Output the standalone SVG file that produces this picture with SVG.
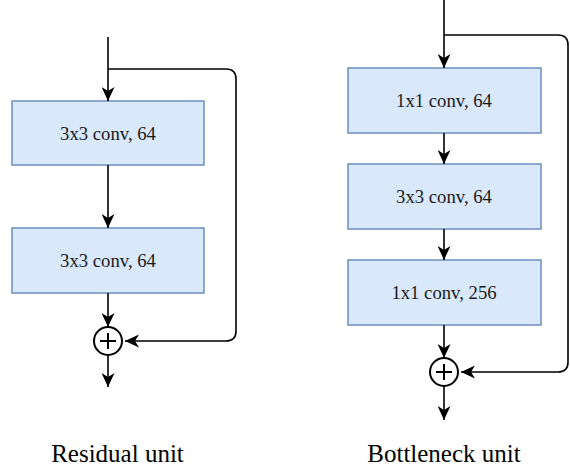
<svg xmlns="http://www.w3.org/2000/svg" width="570" height="469" viewBox="0 0 570 469">
  <style>
    .box { fill: #dae8fc; stroke: #6c8ebf; stroke-width: 1.5; }
    .lbl { font-family: "Liberation Serif", "Times New Roman", serif; font-size: 18.7px; fill: #1a1a1a; text-anchor: middle; }
    .title { font-family: "Liberation Serif", "Times New Roman", serif; font-size: 25px; fill: #000; text-anchor: middle; }
    .edge { fill: none; stroke: #000; stroke-width: 1.6; }
    .sum { fill: #fff; stroke: #000; stroke-width: 2; }
    .plus { stroke: #000; stroke-width: 2; }
  </style>
  <defs>
    <marker id="arrow" markerUnits="userSpaceOnUse" markerWidth="15" markerHeight="13" refX="14" refY="6.5" orient="auto">
      <path d="M0,0 L14,6.5 L0,13 L4,6.5 Z" fill="#000"/>
    </marker>
  </defs>

  <!-- Residual unit -->
  <g id="res-conv1">
    <rect class="box" x="12" y="101" width="192" height="64"/>
    <text class="lbl" x="108" y="140">3x3 conv, 64</text>
  </g>
  <g id="res-conv2">
    <rect class="box" x="12" y="228" width="192" height="65"/>
    <text class="lbl" x="108" y="267">3x3 conv, 64</text>
  </g>
  <g id="res-sum">
    <circle class="sum" cx="108" cy="341" r="14"/>
    <line class="plus" x1="100" y1="341" x2="116" y2="341"/>
    <line class="plus" x1="108" y1="333" x2="108" y2="349"/>
  </g>
  <g id="res-title">
    <text class="title" x="117.5" y="462">Residual unit</text>
  </g>

  <!-- Bottleneck unit -->
  <g id="bn-conv1">
    <rect class="box" x="348" y="68" width="193" height="65"/>
    <text class="lbl" x="444" y="107">1x1 conv, 64</text>
  </g>
  <g id="bn-conv2">
    <rect class="box" x="348" y="164" width="193" height="65"/>
    <text class="lbl" x="444" y="203">3x3 conv, 64</text>
  </g>
  <g id="bn-conv3">
    <rect class="box" x="348" y="260" width="193" height="65"/>
    <text class="lbl" x="444" y="299">1x1 conv, 256</text>
  </g>
  <g id="bn-sum">
    <circle class="sum" cx="444" cy="372" r="14"/>
    <line class="plus" x1="436" y1="372" x2="452" y2="372"/>
    <line class="plus" x1="444" y1="364" x2="444" y2="380"/>
  </g>
  <g id="bn-title">
    <text class="title" x="444" y="462">Bottleneck unit</text>
  </g>

  <g id="connectors">
    <!-- residual unit -->
    <path class="edge" d="M108,37 L108,101" marker-end="url(#arrow)"/>
    <path class="edge" d="M108,165 L108,228" marker-end="url(#arrow)"/>
    <path class="edge" d="M108,293 L108,327" marker-end="url(#arrow)"/>
    <path class="edge" d="M108,355 L108,387" marker-end="url(#arrow)"/>
    <path class="edge" d="M108,69 L226,69 Q236,69 236,79 L236,331 Q236,341 226,341 L125,341" marker-end="url(#arrow)"/>
    <!-- bottleneck unit -->
    <path class="edge" d="M444,0 L444,68" marker-end="url(#arrow)"/>
    <path class="edge" d="M444,133 L444,164" marker-end="url(#arrow)"/>
    <path class="edge" d="M444,229 L444,260" marker-end="url(#arrow)"/>
    <path class="edge" d="M444,325 L444,358" marker-end="url(#arrow)"/>
    <path class="edge" d="M444,386 L444,420" marker-end="url(#arrow)"/>
    <path class="edge" d="M444,35 L558,35 Q568,35 568,45 L568,362 Q568,372 558,372 L461,372" marker-end="url(#arrow)"/>
  </g>
</svg>
